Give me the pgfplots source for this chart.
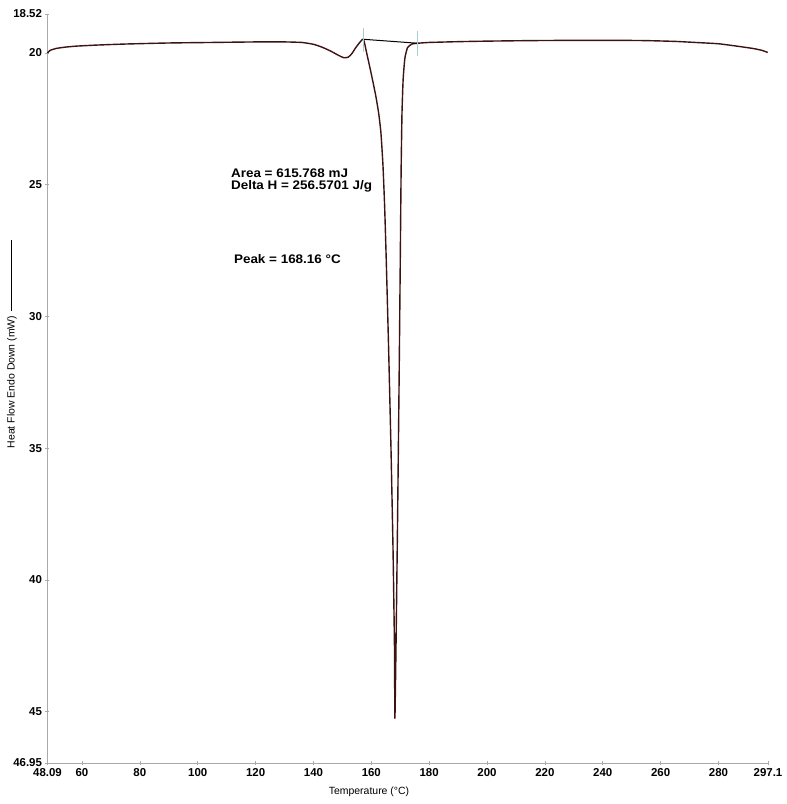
\documentclass[border=0pt]{standalone}
\usepackage{pgfplots}
\pgfplotsset{compat=1.18}
\usepackage{fontspec}
\setmainfont{Liberation Sans}
\newfontfamily\annfont[FakeStretch=1.08]{Liberation Sans}
\definecolor{trace}{RGB}{60,18,18}
\definecolor{axgray}{RGB}{170,170,170}
\definecolor{marker}{RGB}{170,205,210}
\begin{document}
\begin{tikzpicture}
\begin{axis}[
  at={(0,0)}, anchor=south west,
  scale only axis, width=720.5bp, height=749bp,
  xmin=48.09, xmax=297.1, ymin=18.52, ymax=46.95, y dir=reverse,
  axis x line=bottom, axis y line=left,
  axis line style={draw=axgray, line width=0.8bp, -},
  tick style={draw=axgray, line width=0.6bp},
  major tick length=4bp,
  xtick={48.09,60,80,100,120,140,160,180,200,220,240,260,280,297.1},
  xticklabels={48.09,60,80,100,120,140,160,180,200,220,240,260,280,297.1},
  ytick={18.52,20,25,30,35,40,45,46.95},
  yticklabels={18.52,20,25,30,35,40,45,46.95},
  ticklabel style={font=\fontsize{11.5}{12}\selectfont\bfseries},
  clip=false,
]
\addplot[trace, line width=1.4bp, smooth, tension=0.3, line join=round] coordinates {
(48.09,20.00) (49,19.9) (51,19.83) (54,19.78) (58,19.74) (65,19.7) (75,19.66)
(90,19.62) (105,19.6) (120,19.58) (130,19.58) (136,19.6) (140,19.67) (143,19.78)
(146,19.93) (148.5,20.08) (150.5,20.18) (152,20.16) (153.3,20.02) (154.6,19.8)
(156,19.6) (157.3,19.48)
(158.5,20.05) (160,20.8) (161.5,21.6) (162.5,22.25) (163.3,23.0) (164.0,24.2)
(164.6,25.8) (165.2,28.0) (166.0,31.3) (166.8,35.0) (167.5,38.8) (168.0,42.5)
(168.16,45.25)
(168.6,42.0) (169.1,37.5) (169.6,32.5) (170.0,28.0) (170.3,24.5) (170.6,22.3)
(171.0,21.0) (171.6,20.2) (172.5,19.8) (174,19.66) (176,19.63)
(180,19.6) (190,19.57) (200,19.55) (215,19.53) (230,19.52) (245,19.52) (255,19.53)
(265,19.56) (272,19.6) (280,19.65) (287,19.75) (292,19.83) (295,19.9) (297,19.98)
};
\addplot[black, line width=1bp] coordinates {(157.3,19.48) (176,19.63)};
\addplot[marker, line width=0.8bp] coordinates {(157.3,19.05) (157.3,19.95)};
\addplot[marker, line width=0.8bp] coordinates {(176,19.15) (176,20.1)};
\node[anchor=base west, inner sep=0, align=left, font=\annfont\fontsize{12.5}{11.7}\selectfont\bfseries]
  at (axis cs:111.47,25.17) {Area = 615.768 mJ\\Delta H = 256.5701 J/g};
\node[anchor=base west, inner sep=0, font=\annfont\fontsize{12.5}{12}\selectfont\bfseries]
  at (axis cs:112.5,27.98) {Peak = 168.16 °C};
\end{axis}
\node[font=\fontsize{10.5}{11}\selectfont] at (321.5bp,-29bp) {Temperature (°C)};
\node[rotate=90, font=\fontsize{10.5}{11}\selectfont, inner sep=0] at (-35.5bp,381bp) {Heat Flow Endo Down (mW)};
\draw[black, line width=1bp] (-35.5bp,452bp) -- (-35.5bp,523bp);
\path[use as bounding box] (-47.5bp,-41bp) rectangle (739.5bp,763bp);
\end{tikzpicture}
\end{document}
